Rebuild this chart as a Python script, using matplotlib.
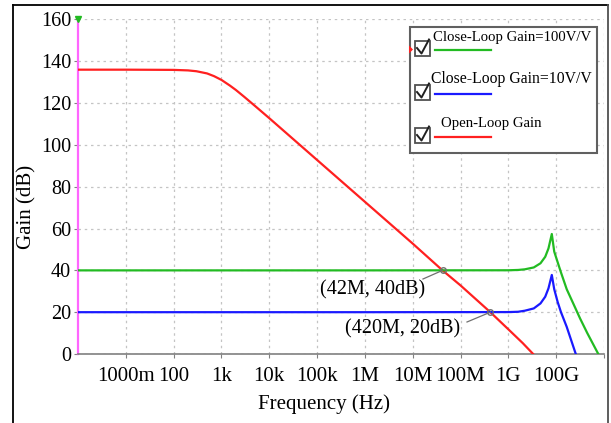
import matplotlib
matplotlib.use("Agg")
import matplotlib.pyplot as plt
from matplotlib.lines import Line2D
from matplotlib.patches import Rectangle, Polygon

plt.rcParams['font.family'] = ['Liberation Serif', 'DejaVu Serif']

# ---- data (frequency in Hz, gain in dB) ----
open_loop_freq = [1, 10, 100, 200, 300, 500, 700, 1e3, 1.5e3, 2e3, 3e3, 5e3, 1e4,
                  1e5, 1e6, 1e7, 4.2e7, 1e8, 4.2e8, 1e9, 2e9, 3.3e9, 4e9]
open_loop_gain = [136, 136, 135.9, 135.65, 135.25, 134.2, 132.9, 131.1, 128.4, 126.3,
                  123.0, 118.7, 112.8, 92.8, 72.8, 52.8, 40, 32.8, 20, 11.8, 5.2, 0, -2]

cl100_freq = [1, 1e6, 1e9, 1.6e9, 2.2e9, 3.4e9, 4.7e9, 5.9e9, 6.9e9, 8.1e9, 9.1e9,
              1.07e10, 1.26e10, 1.66e10, 2.24e10, 3.16e10, 4.47e10, 7.6e10, 8.5e10]
cl100_gain = [40, 40, 40.05, 40.2, 40.5, 41.4, 43.4, 46.5, 50.5, 57.4, 49,
              44, 39, 31, 24.5, 17, 10, 0, -2]

cl10_freq = [1, 1e6, 1e9, 1.6e9, 2.2e9, 3.4e9, 4.7e9, 5.9e9, 6.9e9, 8.1e9, 9.1e9,
             1.07e10, 1.26e10, 1.66e10, 2.1e10, 2.57e10, 2.8e10]
cl10_gain = [20, 20, 20.05, 20.2, 20.7, 21.8, 24.2, 27.4, 31.4, 37.8, 31,
             25, 20, 13, 6, 0, -2]

x_ticks = [1e1, 1e2, 1e3, 1e4, 1e5, 1e6, 1e7, 1e8, 1e9, 1e10, 1e11]
x_tick_labels = ['1000m', '100', '1k', '10k', '100k', '1M', '10M', '100M', '1G', '100G', '']
y_ticks = [0, 20, 40, 60, 80, 100, 120, 140, 160]

markers = [(4.2e7, 40, '(42M, 40dB)'), (4.2e8, 20, '(420M, 20dB)')]

legend_items = [('Close-Loop Gain=100V/V', '#22bb22', 10.6),
                ('Close-Loop Gain=10V/V', '#1a1aff', 11.3),
                ('Open-Loop Gain', '#ff2020', 10.6)]

# ---- figure ----
W, H = 611, 423
fig = plt.figure(figsize=(W / 100, H / 100), dpi=100)


def fx(px):
    return px / W


def fy(py):
    return 1 - py / H


ax_l, ax_r, ax_t, ax_b = 78, 604, 19.5, 354
ax = fig.add_axes([fx(ax_l), fy(ax_b), fx(ax_r) - fx(ax_l), fy(ax_t) - fy(ax_b)])
ax.set_xscale('log')
ax.set_xlim(1, 1e11)
ax.set_ylim(0, 160)

ax.plot(open_loop_freq, open_loop_gain, color='#ff2020', lw=1.6, zorder=3)
ax.plot(cl100_freq, cl100_gain, color='#22bb22', lw=1.6, zorder=3)
ax.plot(cl10_freq, cl10_gain, color='#1a1aff', lw=1.6, zorder=3)

ax.set_xticks(x_ticks)
ax.set_xticklabels(x_tick_labels)
ax.minorticks_off()
ax.set_yticks(y_ticks)
ax.tick_params(axis='both', length=3, width=0.8, color='#808080', labelsize=14.5,
               labelcolor='black', pad=2)
ax.tick_params(axis='x', pad=6, labelsize=15)

ax.grid(True, which='major', color='#c4c4c4', linestyle=(0, (2, 3)), linewidth=0.9)
ax.set_axisbelow(True)

for side in ['top', 'right']:
    ax.spines[side].set_visible(False)
ax.spines['left'].set_color('#ff66ff')
ax.spines['left'].set_linewidth(1.6)
ax.spines['bottom'].set_color('#808080')
ax.spines['bottom'].set_linewidth(1.2)

# small green cursor marker at top of the y axis
ax.plot([1], [160], marker='v', color='#22bb22', markersize=4, clip_on=False, zorder=5)

# intersection markers and their labels
for (f, g, txt), (tx, ty, lx, ly) in zip(markers, [(373, 290, 423, 279), (403, 329, 467, 322)]):
    ax.plot([f], [g], marker='o', markersize=4, mfc='none', mec='#707070', mew=1.0, zorder=4)
    xd, yd = ax.transData.transform((f, g))
    x0, y0 = fig.transFigure.inverted().transform((xd, yd))
    fig.add_artist(Line2D([fx(lx), x0], [fy(ly), y0], color='#707070', lw=0.9))
    fig.text(fx(tx), fy(ty), txt, ha='center', va='center', fontsize=14.5)

# axis titles
fig.text(fx(324), fy(404), 'Frequency (Hz)', ha='center', va='center', fontsize=15)
fig.text(fx(27), fy(207), 'Gain (dB)', ha='center', va='center', rotation=90, fontsize=15)

# ---- legend panel ----
lg_l, lg_t, lg_r, lg_b = 410, 27.5, 596.5, 152.5
fig.add_artist(Rectangle((fx(lg_l), fy(lg_b)), fx(lg_r) - fx(lg_l), fy(lg_t) - fy(lg_b),
                         transform=fig.transFigure, facecolor='white', edgecolor='#606060',
                         lw=1.5, zorder=10))
rows = [(38, 50.5, 48.5, 433), (79, 94, 92.5, 431), (124, 137.5, 135.5, 441)]
for (label, col, fs), (text_y, line_y, box_y, text_x) in zip(legend_items, rows):
    fig.text(fx(text_x), fy(text_y), label, ha='left', va='center', fontsize=fs, zorder=11)
    fig.add_artist(Line2D([fx(435), fx(491)], [fy(line_y), fy(line_y)], color=col, lw=1.6,
                          zorder=11))
    bx0, bx1, by0, by1 = 414.5, 430, box_y - 7.5, box_y + 7.5
    fig.add_artist(Rectangle((fx(bx0), fy(by1)), fx(bx1) - fx(bx0), fy(by0) - fy(by1),
                             transform=fig.transFigure, facecolor='white',
                             edgecolor='#505050', lw=1.3, zorder=11))
    fig.add_artist(Line2D([fx(417), fx(421.5), fx(429)],
                          [fy(box_y - 0.5), fy(box_y + 5), fy(box_y - 9)],
                          color='#202020', lw=1.4, zorder=12))

# red selector arrow on the legend edge
fig.add_artist(Polygon([(fx(409), fy(45.5)), (fx(413), fy(49.5)), (fx(409), fy(53.5))],
                       closed=True, transform=fig.transFigure, facecolor='#ff2020',
                       edgecolor='none', zorder=12))

# outer frame
fig.add_artist(Line2D([fx(13), fx(13)], [fy(5), fy(423)], color='black', lw=1.3))
fig.add_artist(Line2D([fx(13), fx(608)], [fy(5), fy(5)], color='black', lw=1.3))
fig.add_artist(Line2D([fx(608), fx(608)], [fy(5), fy(423)], color='#505050', lw=1.3))

fig.savefig('out.png', dpi=100)
